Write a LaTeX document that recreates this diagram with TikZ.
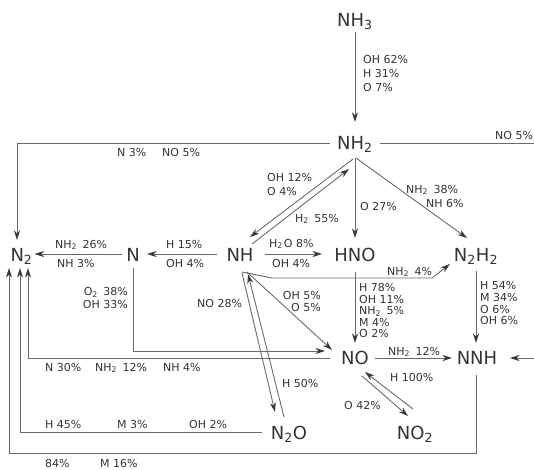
\documentclass[tikz,border=0pt]{standalone}
\usepackage{fontspec}
\setmainfont{DejaVu Sans}
\usetikzlibrary{arrows.meta,calc}
\definecolor{lncol}{HTML}{6A6A6A}
\definecolor{tipcol}{HTML}{3A3A3A}
\definecolor{tx}{HTML}{333333}
\begin{document}
\begin{tikzpicture}[x=1pt,y=-1pt,
 sp/.style={font=\fontsize{18}{20}\selectfont, text=tx, inner sep=0pt, text height=13.1pt, text depth=0pt},
 lbl/.style={font=\fontsize{11}{13}\selectfont, text=tx, inner sep=0pt, text height=8pt, text depth=0pt, anchor=west},
 mlbl/.style={font=\fontsize{11}{#1}\selectfont, text=tx, inner sep=0pt, align=left, anchor=north west},
 mrlbl/.style={font=\fontsize{11}{#1}\selectfont, text=tx, inner sep=0pt, align=right, anchor=north east},
 arr/.style={draw=lncol, line width=0.9pt, -{Stealth[length=9.5pt,width=6pt,inset=3pt,color=tipcol]}}]
\useasboundingbox (0,0) rectangle (534,469);
\clip (0,0) rectangle (534,469);
% species
\node[sp] (NH3) at (355,20) {NH\textsubscript{3}};
\node[sp] (NH2) at (355,143) {NH\textsubscript{2}};
\node[sp] (N2) at (21.5,255) {N\textsubscript{2}};
\node[sp] (N) at (133,255) {N};
\node[sp] (NH) at (240,255) {NH};
\node[sp] (HNO) at (355,255) {HNO};
\node[sp] (N2H2) at (476,255) {N\textsubscript{2}H\textsubscript{2}};
\node[sp] (NO) at (355,358) {NO};
\node[sp] (NNH) at (477,358) {NNH};
\node[sp] (N2O) at (289,433) {N\textsubscript{2}O};
\node[sp] (NO2) at (415,433) {NO\textsubscript{2}};
\coordinate (offR) at (545,250);
% connectors
\draw[arr] ($(NH3)+(0,12)$) -- ($(NH2)+(0,-21)$);
\draw[arr] ($(NH2)+(-25,0)$) -| ($(N2)+(-4.5,-15)$);
\draw[arr] ($(NH2)+(25,0)$) -| (offR) |- ($(NNH)+(33,0)$);
\draw[arr] ($(NH2)+(-2,16)$) -- ($(NH)+(10,-18)$);
\draw[arr] ($(NH)+(12,-11)$) -- ($(NH2)+(-6,26)$);
\draw[arr] ($(NH2)+(0,15)$) -- ($(HNO)+(0,-17)$);
\draw[arr] ($(NH2)+(1,15)$) -- ($(N2H2)+(-9,-17)$);
\draw[arr] ($(N)+(-11,-1)$) -- ($(N2)+(13,-1)$);
\draw[arr] ($(NH)+(-23,-1)$) -- ($(N)+(14,-1)$);
\draw[arr] ($(NH)+(25,-1)$) -- ($(HNO)+(-33,-1)$);
\draw[arr] ($(NH)+(2,17)$) -- ($(NH)+(32,23)$) -- ($(N2H2)+(-44,23)$) -- ($(N2H2)+(-26,9)$);
\draw[arr] ($(N)+(0,13)$) |- ($(NO)+(-30,-7)$);
\draw[arr] ($(NO)+(-25,0)$) -| ($(N2)+(6.5,13)$);
\draw[arr] ($(N2O)+(-27,-1)$) -| ($(N2)+(-1.5,13)$);
\draw[arr] ($(NNH)+(-1,17)$) |- ($(N2)+(-12.5,198)$) -- ($(N2)+(-12.5,13)$);
\draw[arr] ($(HNO)+(0,17)$) -- ($(NO)+(0,-15)$);
\draw[arr] ($(N2H2)+(0,16)$) -- ($(NNH)+(-1,-15)$);
\draw[arr] ($(NO)+(20,0)$) -- ($(NNH)+(-25,0)$);
\draw[arr] ($(NH)+(7,17)$) -- ($(NO)+(-23,-8)$);
\draw[arr] ($(NO)+(7,18)$) -- ($(NO2)+(-7,-17)$);
\draw[arr] ($(NO2)+(-2,-24)$) -- ($(NO)+(10,14)$);
\draw[arr] ($(NH)+(2,18)$) -- ($(N2O)+(-14,-21)$);
\draw[arr] ($(N2O)+(-5,-16)$) -- ($(NH)+(8,19)$);
% labels
\node[mlbl=14] (l1) at (363,55.5) {OH 62\%\\H 31\%\\O 7\%};
\node[lbl] (l2a) at (117,152) {N 3\%};
\node[lbl] (l2b) at (162,152) {NO 5\%};
\node[lbl] (l3) at (495,135) {NO 5\%};
\node[mlbl=14] (l4) at (267,173.5) {OH 12\%\\O 4\%};
\node[lbl] (l5) at (295,218) {H\textsubscript{2}\hspace{2pt} 55\%};
\node[lbl] (l6) at (360,206) {O 27\%};
\node[lbl] (l7a) at (406,189) {NH\textsubscript{2}\hspace{2pt} 38\%};
\node[lbl] (l7b) at (426,203) {NH 6\%};
\node[lbl] (l8a) at (55,244) {NH\textsubscript{2}\hspace{2pt} 26\%};
\node[lbl] (l8b) at (57,263) {NH 3\%};
\node[lbl] (l9a) at (166,244) {H 15\%};
\node[lbl] (l9b) at (166,263) {OH 4\%};
\node[lbl] (l10a) at (269,243) {H\textsubscript{2}\hspace{1pt}O 8\%};
\node[lbl] (l10b) at (272,263) {OH 4\%};
\node[lbl] (l11) at (387,271) {NH\textsubscript{2}\hspace{2pt} 4\%};
\node[mrlbl=13] (l12) at (128,287.5) {O\textsubscript{2}\hspace{2pt} 38\%\\OH 33\%};
\node[lbl] (l13) at (197,303) {NO 28\%};
\node[mrlbl=12] (l14) at (321,291.5) {OH 5\%\\O 5\%};
\node[mlbl=11.5] (l15) at (359,283.5) {H 78\%\\OH 11\%\\NH\textsubscript{2}\hspace{2pt} 5\%\\M 4\%\\O 2\%};
\node[mlbl=11.7] (l16) at (480,281.5) {H 54\%\\M 34\%\\O 6\%\\OH 6\%};
\node[lbl] (l17a) at (45,367) {N 30\%};
\node[lbl] (l17b) at (95,367) {NH\textsubscript{2}\hspace{2pt} 12\%};
\node[lbl] (l17c) at (163,367) {NH 4\%};
\node[lbl] (l18) at (388,351) {NH\textsubscript{2}\hspace{2pt} 12\%};
\node[lbl] (l19) at (390,377) {H 100\%};
\node[lbl] (l20) at (344,405) {O 42\%};
\node[lbl] (l21) at (282,383) {H 50\%};
\node[lbl] (l22a) at (45,424) {H 45\%};
\node[lbl] (l22b) at (117,424) {M 3\%};
\node[lbl] (l22c) at (189,424) {OH 2\%};
\node[lbl] (l23a) at (45,463) {84\%};
\node[lbl] (l23b) at (100,463) {M 16\%};
\end{tikzpicture}
\end{document}
